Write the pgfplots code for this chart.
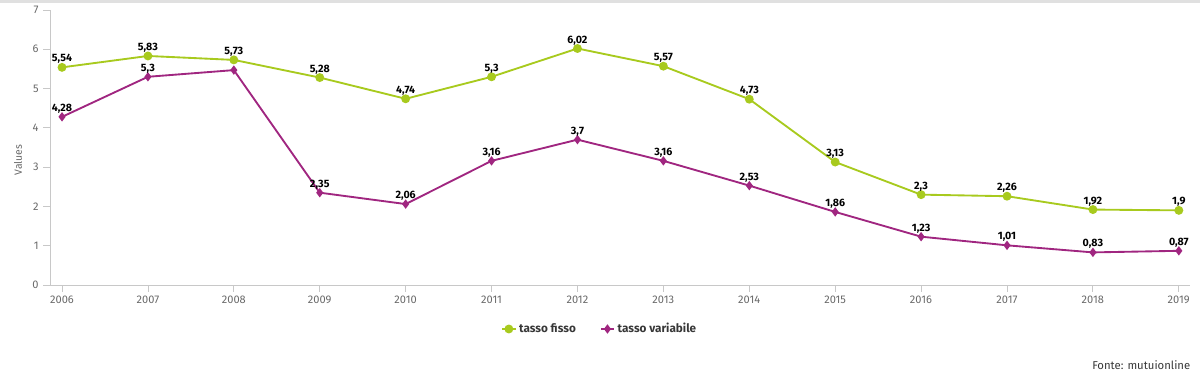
\documentclass[border=0pt]{standalone}
\usepackage{pgfplots}
\pgfplotsset{compat=1.18}
\usepackage{fontspec}
\setmainfont{Fira Sans}
\definecolor{fisso}{RGB}{168,202,30}
\definecolor{variab}{RGB}{160,38,128}
\definecolor{axgray}{RGB}{200,200,200}
\definecolor{txtgray}{RGB}{105,105,105}
\definecolor{leggray}{RGB}{55,55,55}
\begin{document}
\begin{tikzpicture}[x=0.75pt,y=0.75pt]
\useasboundingbox (0,0) rectangle (1200,-388);
\fill[black!12] (0,0) rectangle (1200,-3);
\begin{axis}[
  at={(37.5pt,-213.75pt)}, anchor=south west,
  scale only axis, width=855pt, height=206.25pt,
  xmin=2005.86, xmax=2019.13, ymin=0, ymax=7,
  axis x line*=bottom, axis y line*=left,
  axis line style={axgray,-},
  every tick/.style={axgray, line width=0.6pt},
  major tick length=5pt, tick align=outside,
  xtick={2006,...,2019}, ytick={0,...,7},
  xticklabel style={/pgf/number format/1000 sep={}},
  /pgf/number format/assume math mode=true,
  ticklabel style={font=\fontsize{8.3}{10}\selectfont, text=txtgray},
  clip=false,
  nodes near coords,
  point meta=explicit symbolic,
  every node near coord/.append style={font=\fontsize{8}{9}\selectfont\bfseries, text=black, inner sep=2pt},
  legend image code/.code={\draw[mark repeat=2,mark phase=2,#1] plot coordinates {(0pt,0pt)(5pt,0pt)(10pt,0pt)};},
  legend style={at={(0.4825,-0.16)}, anchor=center, draw=none, fill=none,
    legend columns=-1, font=\fontsize{8.8}{11}\selectfont\bfseries, text=leggray,
    /tikz/every even column/.append style={column sep=16pt}},
]
\addplot[fisso, line width=1.4pt, mark=*, mark size=2.6pt] table[x=x, y=y, meta=lab] {
x y lab
2006 5.54 5,54
2007 5.83 5,83
2008 5.73 5,73
2009 5.28 5,28
2010 4.74 4,74
2011 5.30 5,3
2012 6.02 6,02
2013 5.57 5,57
2014 4.73 4,73
2015 3.13 3,13
2016 2.30 2,3
2017 2.26 2,26
2018 1.92 1,92
2019 1.90 1,9
};
\addlegendentry{tasso fisso}
\addplot[variab, line width=1.4pt, mark=diamond*, mark size=2.4pt] table[x=x, y=y, meta=lab] {
x y lab
2006 4.28 4,28
2007 5.30 5,3
2008 5.47 {}
2009 2.35 2,35
2010 2.06 2,06
2011 3.16 3,16
2012 3.70 3,7
2013 3.16 3,16
2014 2.53 2,53
2015 1.86 1,86
2016 1.23 1,23
2017 1.01 1,01
2018 0.83 0,83
2019 0.87 0,87
};
\addlegendentry{tasso variabile}
\end{axis}
\node[rotate=90, font=\fontsize{7.8}{9}\selectfont, text=txtgray] at (18,-160) {Values};
\node[anchor=east, font=\fontsize{8.5}{10}\selectfont, text=leggray] at (1195,-365) {Fonte: mutuionline};
\end{tikzpicture}
\end{document}
